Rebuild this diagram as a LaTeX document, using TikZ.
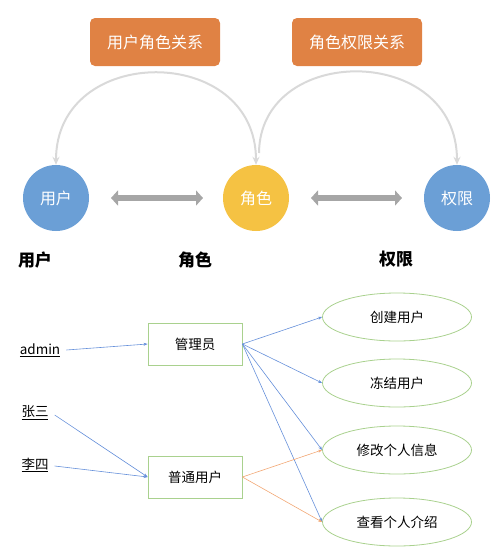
\documentclass[tikz,border=0pt]{standalone}
\usepackage{fontspec}
\setmainfont{Noto Sans CJK SC}
\usepackage{tikz}
\usetikzlibrary{arrows.meta,shapes.geometric}
\definecolor{boxorange}{HTML}{E08244}
\definecolor{roleblue}{HTML}{6B9FD6}
\definecolor{roleyellow}{HTML}{F5C243}
\definecolor{arcgray}{HTML}{D9D9D9}
\definecolor{dblgray}{HTML}{A6A6A6}
\definecolor{linegreen}{HTML}{A9D18E}
\definecolor{linkblue}{HTML}{6690DA}
\definecolor{linkorange}{HTML}{F2A774}

\begin{document}
\begin{tikzpicture}[x=1pt, y=-1pt,
    relbox/.style={fill=boxorange, rounded corners=5pt, minimum width=130pt, minimum height=48pt, text=white, font=\fontsize{16}{16}\selectfont},
    ball/.style={circle, minimum size=66pt, inner sep=0pt, text=white, font=\fontsize{16}{16}\selectfont},
    bigword/.style={font=\fontsize{17}{17}\selectfont\bfseries},
    rolebox/.style={draw=linegreen, thick, minimum width=94pt, minimum height=42pt, font=\fontsize{13.5}{13.5}\selectfont},
    permit/.style={draw=linegreen, thick, ellipse, minimum width=149pt, minimum height=48pt, font=\fontsize{13.5}{13.5}\selectfont},
    who/.style={font=\fontsize{13.5}{13.5}\selectfont, inner sep=1pt},
    link/.style={linkblue, semithick, -{Stealth[length=4pt,width=3pt]}},
    olink/.style={linkorange, semithick, -{Stealth[length=4pt,width=3pt]}},
    archarrow/.style={arcgray, line width=2pt, -{Stealth[length=8pt,width=7pt]}},
    dbl/.style={dblgray, line width=6pt, {Triangle[length=7pt,width=15pt]}-{Triangle[length=7pt,width=15pt]}}]
    \useasboundingbox (0,0) rectangle (500,558);
    % 上半部分
    \node[relbox] (ur) at (155,42) {用户角色关系};
    \node[relbox] (rp) at (357,42) {角色权限关系};
    \node[ball, fill=roleblue] (user) at (56,198) {用户};
    \node[ball, fill=roleyellow] (role) at (256,198) {角色};
    \node[ball, fill=roleblue] (perm) at (457,198) {权限};
    \coordinate (rs) at (259,153);
    \draw[archarrow, {Stealth[length=8pt,width=7pt]}-{Stealth[length=8pt,width=7pt]}] (role.north) .. controls (256,43) and (56,43) .. (user.north);
    \draw[archarrow] (rs) .. controls (260,43) and (457,43) .. (perm.north);
    \coordinate (a1) at (111,198); \coordinate (a2) at (203,198);
    \coordinate (b1) at (311,198); \coordinate (b2) at (402,198);
    \draw[dbl] (a1)--(a2);
    \draw[dbl] (b1)--(b2);
    \node[bigword] (w1) at (35,260) {用户};
    \node[bigword] (w2) at (195,260) {角色};
    \node[bigword] (w3) at (396,259) {权限};
    % 下半部分
    \node[rolebox] (admin) at (195,344) {管理员};
    \node[rolebox] (normal) at (195,477) {普通用户};
    \node[permit] (p1) at (397,317) {创建用户};
    \node[permit] (p2) at (397,383) {冻结用户};
    \node[permit] (p3) at (397,450) {修改个人信息};
    \node[permit] (p4) at (397,522) {查看个人介绍};
    \node[who] (u1) at (40,350) {\underline{admin}};
    \node[who] (u2) at (35,413) {\underline{张三}};
    \node[who] (u3) at (35,465) {\underline{李四}};
    \draw[link] (u1.east) ++(5,0) -- (admin.west);
    \draw[link] (u2.east) ++(5,2) -- (normal.west);
    \draw[link] (u3.east) ++(5,1) -- (normal.west);
    \foreach \p in {p1,p2,p3,p4}
        \draw[link] (admin.east) -- (\p.west);
    \foreach \p in {p3,p4}
        \draw[olink] (normal.east) -- (\p.west);
\end{tikzpicture}
\end{document}
